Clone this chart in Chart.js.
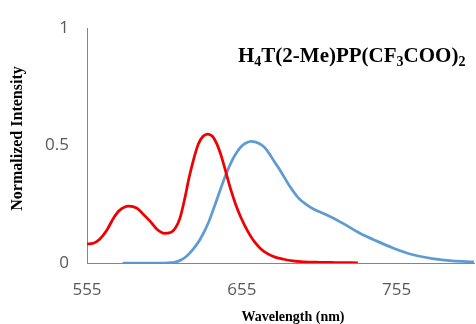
<!DOCTYPE html>
<html>
<head>
<meta charset="utf-8">
<script src="https://cdn.jsdelivr.net/npm/chart.js@4.4.1/dist/chart.umd.min.js"></script>
<style>
  html, body { margin: 0; padding: 0; background: #ffffff; }
  #wrap { width: 476px; height: 324px; position: relative; }
</style>
</head>
<body>
<div id="wrap"><canvas id="chart" width="476" height="324"></canvas></div>
<script>
// Normalized emission/excitation spectra, wavelength in nm
const redWavelength = [555, 559, 563, 568, 572, 576, 582, 587, 591, 596, 600, 605, 609, 612, 615, 618, 621, 624, 627, 630, 633, 636, 639, 642, 645, 648, 651, 654, 657, 660, 663, 667, 671, 676, 682, 688, 695, 705, 715, 730];
const redIntensity  = [0.081, 0.084, 0.100, 0.142, 0.190, 0.224, 0.242, 0.234, 0.210, 0.176, 0.145, 0.126, 0.130, 0.148, 0.190, 0.270, 0.365, 0.445, 0.508, 0.540, 0.549, 0.540, 0.505, 0.450, 0.380, 0.310, 0.250, 0.200, 0.158, 0.122, 0.092, 0.062, 0.042, 0.026, 0.016, 0.009, 0.005, 0.003, 0.002, 0.001];

const blueWavelength = [578, 590, 600, 608, 612, 616, 619.5, 624, 628, 633, 637, 641, 645, 649, 652, 655, 658, 661, 664, 667.5, 670, 673, 676, 680, 686, 692, 697, 701, 710, 720, 731, 742, 753, 765, 778, 791, 805];
const blueIntensity  = [0.000, 0.000, 0.000, 0.001, 0.004, 0.014, 0.030, 0.062, 0.100, 0.165, 0.235, 0.310, 0.381, 0.440, 0.474, 0.498, 0.512, 0.518, 0.515, 0.504, 0.490, 0.463, 0.432, 0.392, 0.327, 0.274, 0.248, 0.231, 0.204, 0.170, 0.128, 0.094, 0.063, 0.036, 0.019, 0.009, 0.005];

const xTicks = [555, 655, 755];
const yTicks = [0, 0.5, 1];
const xTickLabels = ['555', '655', '755'];
const yTickLabels = ['0', '0.5', '1'];

const xTitle = 'Wavelength (nm)';
const yTitle = 'Normalized Intensity';
// compound label, split into normal / subscript runs
const compoundParts = [['H', false], ['4', true], ['T(2-Me)PP(CF', false], ['3', true], ['COO)', false], ['2', true]];

const toPoints = (xs, ys) => xs.map((x, i) => ({ x: x, y: ys[i] }));

const axisColor = '#868686';
const tickFont = { family: '"Open Sans", sans-serif', size: 17 };

// draws the axis titles and the compound label
const textPlugin = {
  id: 'chartText',
  afterDraw(chart) {
    const ctx = chart.ctx;
    const area = chart.chartArea;
    ctx.save();
    ctx.fillStyle = '#000000';

    // x-axis title
    ctx.font = 'bold 14px "Liberation Serif", "Times New Roman", serif';
    ctx.textAlign = 'center';
    ctx.textBaseline = 'alphabetic';
    ctx.fillText(xTitle, area.left + 206, 321);

    // y-axis title, rotated
    ctx.save();
    ctx.translate(21.5, 138.5);
    ctx.rotate(-Math.PI / 2);
    ctx.font = 'bold 16px "Liberation Serif", "Times New Roman", serif';
    ctx.textAlign = 'center';
    ctx.fillText(yTitle, 0, 0);
    ctx.restore();

    // compound label with subscripts
    let x = 238;
    const baseY = 62;
    ctx.textAlign = 'left';
    compoundParts.forEach(([txt, sub]) => {
      ctx.font = sub ? 'bold 14px "Liberation Serif", serif' : 'bold 21px "Liberation Serif", serif';
      ctx.fillText(txt, x, sub ? baseY + 4 : baseY);
      x += ctx.measureText(txt).width;
    });
    ctx.restore();
  }
};

new Chart(document.getElementById('chart'), {
  type: 'line',
  data: {
    datasets: [
      {
        label: 'red',
        data: toPoints(redWavelength, redIntensity),
        borderColor: '#f00000',
        borderWidth: 2.75,
        pointRadius: 0,
        cubicInterpolationMode: 'monotone',
        fill: false
      },
      {
        label: 'blue',
        data: toPoints(blueWavelength, blueIntensity),
        borderColor: '#5f9bd3',
        borderWidth: 2.75,
        pointRadius: 0,
        cubicInterpolationMode: 'monotone',
        fill: false
      }
    ]
  },
  options: {
    responsive: false,
    animation: false,
    devicePixelRatio: 1,
    layout: { padding: { left: 0, right: 2, top: 19, bottom: 0 } },
    plugins: {
      legend: { display: false },
      tooltip: { enabled: false },
      title: { display: false }
    },
    scales: {
      x: {
        type: 'linear',
        min: 555,
        max: 805,
        grid: { display: false, drawTicks: false },
        border: { display: true, color: axisColor, width: 1 },
        afterBuildTicks: s => { s.ticks = xTicks.map(v => ({ value: v })); },
        afterFit: s => { s.height = 61; },
        ticks: {
          padding: 17,
          color: '#595959',
          font: tickFont,
          maxRotation: 0,
          autoSkip: false,
          callback: v => xTickLabels[xTicks.indexOf(v)] ?? ''
        }
      },
      y: {
        type: 'linear',
        min: 0,
        max: 1,
        grid: { display: false, drawTicks: false },
        border: { display: true, color: axisColor, width: 1 },
        afterBuildTicks: s => { s.ticks = yTicks.map(v => ({ value: v })); },
        afterFit: s => { s.width = 87; },
        ticks: {
          padding: 18,
          color: '#595959',
          font: tickFont,
          autoSkip: false,
          callback: v => yTickLabels[yTicks.indexOf(v)] ?? ''
        }
      }
    }
  },
  plugins: [textPlugin]
});
</script>
</body>
</html>
